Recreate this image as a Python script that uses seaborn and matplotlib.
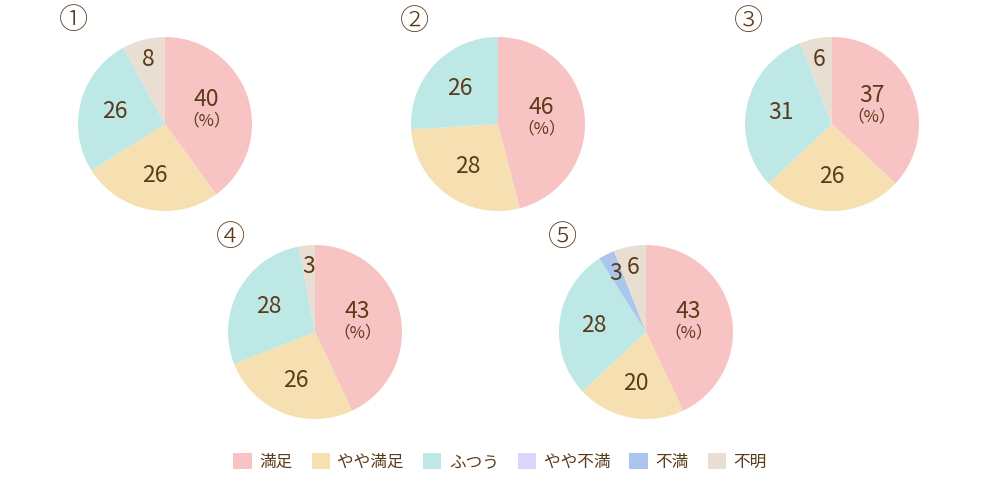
import matplotlib.pyplot as plt
import matplotlib.patches as mpatches
import numpy as np
import seaborn as sns

# ---- data -------------------------------------------------------------
categories = ["満足", "やや満足", "ふつう", "やや不満", "不満", "不明"]
colors = ["#f8c3c3", "#f6e0b2", "#bee8e6", "#dcd5fb", "#abc6ec", "#e8ded2"]

survey_1 = [40, 26, 26, 0, 0, 8]
survey_2 = [46, 28, 26, 0, 0, 0]
survey_3 = [37, 26, 31, 0, 0, 6]
survey_4 = [43, 26, 28, 0, 0, 3]
survey_5 = [43, 20, 28, 0, 3, 6]
panel_labels = ["①", "②", "③", "④", "⑤"]

# layout in pixels (figure 1000x480)
centers = [(165, 124), (498, 124), (832, 124), (315, 332), (646, 332)]
tag_pos = [(73, 21), (414, 22), (748, 22), (230, 238), (562, 238)]
radius = 87

TEXT = "#5b3a1a"
FONT = ["Noto Sans CJK JP", "DejaVu Sans"]

sns.set_theme(style="white")
plt.rcParams["font.family"] = FONT

W, H = 1000, 480
fig = plt.figure(figsize=(W / 100, H / 100), dpi=100)

surveys = [survey_1, survey_2, survey_3, survey_4, survey_5]
for values, (cx, cy), tag, (tx, ty) in zip(surveys, centers, panel_labels, tag_pos):
    ax = fig.add_axes([(cx - radius) / W, (H - cy - radius) / H,
                       2 * radius / W, 2 * radius / H])
    wedges, _ = ax.pie(values, colors=colors, startangle=90, counterclock=False,
                       wedgeprops=dict(linewidth=0))
    ax.set_xlim(-1, 1)
    ax.set_ylim(-1, 1)
    ax.set_aspect("equal")
    ax.axis("off")

    for i, (w, v) in enumerate(zip(wedges, values)):
        if v == 0:
            continue
        ang = np.deg2rad((w.theta1 + w.theta2) / 2)
        if i == 0:
            d = 0.5
        elif v < 10:
            d = 0.76
        else:
            d = 0.6
        x, y = d * np.cos(ang), d * np.sin(ang)
        if i == 0:
            ax.text(x, y + 0.13, str(v), ha="center", va="center",
                    fontsize=16.5, color=TEXT)
            ax.text(x, y - 0.12, "（%）", ha="center", va="center",
                    fontsize=12, color=TEXT)
        else:
            ax.text(x, y, str(v), ha="center", va="center",
                    fontsize=16.5, color=TEXT)

    fig.text(tx / W, 1 - ty / H, tag, ha="center", va="center",
             fontsize=21, fontweight="light", color=TEXT)

handles = [mpatches.Patch(facecolor=c, edgecolor="none", label=l)
           for c, l in zip(colors, categories)]
leg = fig.legend(handles=handles, loc="center", ncol=6,
                 bbox_to_anchor=(0.5, 1 - 462 / H), frameon=False,
                 fontsize=12, handlelength=1.1, handleheight=1.1,
                 handletextpad=0.45, columnspacing=1.15)
for t in leg.get_texts():
    t.set_color(TEXT)

fig.savefig("out.png", dpi=100, facecolor="white")
